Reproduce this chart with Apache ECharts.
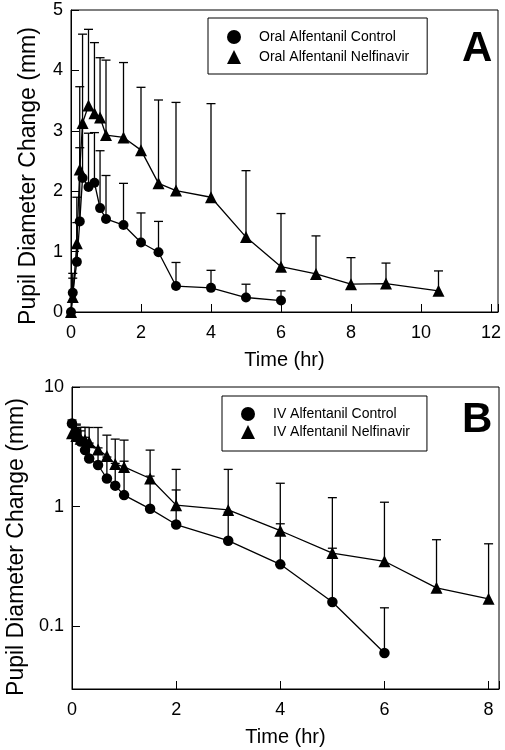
<!DOCTYPE html>
<html><head><meta charset="utf-8">
<script src="https://cdn.jsdelivr.net/npm/echarts@6/dist/echarts.min.js"></script>
<style>html,body{margin:0;padding:0;background:#fff}#c{width:505px;height:750px}</style>
</head><body><div id="c"></div>
<script>
// ---- Panel A (oral) ----
const xTicksA = [0, 2, 4, 6, 8, 10, 12];
const yTicksA = [0, 1, 2, 3, 4, 5];
const timeA_ctrl = [0, 0.05, 0.167, 0.25, 0.33, 0.5, 0.67, 0.83, 1, 1.5, 2, 2.5, 3, 4, 5, 6];
const valA_ctrl  = [0, 0.32, 0.83, 1.50, 2.22, 2.07, 2.14, 1.72, 1.54, 1.44, 1.15, 0.99, 0.43, 0.40, 0.24, 0.19];
const upA_ctrl   = [0, 0.56, 1.48, 2.72, 3.04, 2.96, 2.97, 2.67, 2.26, 2.13, 1.64, 1.50, 0.82, 0.69, 0.46, 0.35];
const timeA_nel = [0, 0.05, 0.167, 0.25, 0.33, 0.5, 0.67, 0.83, 1, 1.5, 2, 2.5, 3, 4, 5, 6, 7, 8, 9, 10.5];
const valA_nel  = [0, 0.25, 1.14, 2.36, 3.13, 3.42, 3.29, 3.22, 2.93, 2.89, 2.68, 2.13, 2.01, 1.90, 1.24, 0.75, 0.63, 0.46, 0.47, 0.35];
const upA_nel   = [0, 0.64, 1.90, 3.73, 4.60, 4.68, 4.46, 4.21, 4.17, 4.13, 3.72, 3.51, 3.47, 3.45, 2.34, 1.63, 1.26, 0.90, 0.81, 0.68];
// ---- Panel B (IV) ----
const xTicksB = [0, 2, 4, 6, 8];
const yTicksB = [0.1, 1, 10];
const timeB_ctrl = [0, 0.083, 0.167, 0.25, 0.33, 0.5, 0.67, 0.83, 1, 1.5, 2, 3, 4, 5, 6];
const valB_ctrl  = [4.95, 4.2, 3.5, 2.97, 2.53, 2.23, 1.72, 1.50, 1.25, 0.96, 0.71, 0.52, 0.33, 0.16, 0.06];
const upB_ctrl   = [5.3, 4.9, 4.3, 3.8, 3.4, 3.1, 2.6, 2.3, 2.4, 1.8, 1.38, 0.9, 0.72, 0.45, 0.143];
const timeB_nel = [0, 0.083, 0.167, 0.25, 0.33, 0.5, 0.67, 0.83, 1, 1.5, 2, 3, 4, 5, 6, 7, 8];
const valB_nel  = [4.1, 3.9, 3.7, 3.6, 3.45, 3.0, 2.65, 2.27, 2.15, 1.72, 1.03, 0.94, 0.63, 0.41, 0.35, 0.21, 0.17];
const upB_nel   = [5.0, 4.8, 4.6, 4.6, 4.59, 4.59, 3.96, 3.67, 3.6, 2.97, 2.05, 2.05, 1.57, 1.19, 1.09, 0.53, 0.49];

const FONT = 'Liberation Sans, Arial, sans-serif';
const chart = echarts.init(document.getElementById('c'), null, {renderer: 'canvas'});

function pts(t, v) { return t.map((x, i) => [x, v[i]]); }
function errPts(t, v, u) { return t.map((x, i) => [x, v[i], u[i]]); }

function errRender(params, api) {
  const x = api.value(0), y = api.value(1), hi = api.value(2);
  if (!(hi > y)) return null;
  const p0 = api.coord([x, y]);
  const p1 = api.coord([x, hi]);
  const st = {stroke: '#000', lineWidth: 1.3};
  return {type: 'group', children: [
    {type: 'line', shape: {x1: p0[0], y1: p0[1], x2: p1[0], y2: p1[1]}, style: st},
    {type: 'line', shape: {x1: p1[0] - 4.5, y1: p1[1], x2: p1[0] + 4.5, y2: p1[1]}, style: st}
  ]};
}

function lineSeries(name, data, sym, size, xi) {
  return {
    name, type: 'line', data, xAxisIndex: xi, yAxisIndex: xi,
    symbol: sym, symbolSize: size, showAllSymbol: true,
    itemStyle: {color: '#000', borderWidth: 0},
    lineStyle: {color: '#000', width: 1.3},
    emphasis: {disabled: true}, animation: false, z: 3
  };
}
function errSeries(data, xi) {
  return {type: 'custom', data, xAxisIndex: xi, yAxisIndex: xi, renderItem: errRender,
    animation: false, z: 1, silent: true};
}

const axisCommon = {
  axisLine: {show: true, lineStyle: {color: '#000', width: 1}},
  axisTick: {show: true, inside: true, length: 8, lineStyle: {color: '#000', width: 1}},
  splitLine: {show: false},
  nameTextStyle: {fontSize: 20, color: '#000', fontFamily: FONT}
};

const legendCommon = {
  orient: 'vertical', itemWidth: 14, itemHeight: 14,
  borderColor: '#000', borderWidth: 1, borderRadius: 0,
  backgroundColor: '#fff', selectedMode: false,
  textStyle: {fontSize: 14, color: '#000', fontFamily: FONT, padding: [0, 0, 0, 13]}
};

chart.setOption({
  backgroundColor: '#fff',
  animation: false,
  textStyle: {fontFamily: FONT},
  title: [
    {text: 'A', left: 462, top: 28, padding: 0, textStyle: {fontSize: 42, fontWeight: 'bold', color: '#000', fontFamily: FONT}},
    {text: 'B', left: 462, top: 399, padding: 0, textStyle: {fontSize: 42, fontWeight: 'bold', color: '#000', fontFamily: FONT}}
  ],
  legend: [
    Object.assign({}, legendCommon, {
      left: 208, top: 18, itemGap: 6, padding: [12, 18, 10, 19],
      data: [{name: 'Oral Alfentanil Control', icon: 'circle'}, {name: 'Oral Alfentanil Nelfinavir', icon: 'triangle'}]
    }),
    Object.assign({}, legendCommon, {
      left: 222, top: 396, itemGap: 4, padding: [11, 17, 12, 19],
      data: [{name: 'IV Alfentanil Control', icon: 'circle'}, {name: 'IV Alfentanil Nelfinavir', icon: 'triangle'}]
    })
  ],
  grid: [
    {left: 71, top: 10, width: 427, height: 302, show: true, borderColor: '#000', borderWidth: 1,
     backgroundColor: 'transparent', containLabel: false, outerBoundsMode: 'none'},
    {left: 72, top: 387, width: 427, height: 302, show: true, borderColor: '#000', borderWidth: 1,
     backgroundColor: 'transparent', containLabel: false, outerBoundsMode: 'none'}
  ],
  xAxis: [
    Object.assign({}, axisCommon, {
      gridIndex: 0, type: 'value', min: 0, max: 12.2, interval: 2,
      axisLabel: {fontSize: 18, color: '#000', margin: 12, fontFamily: FONT,
        formatter: v => xTicksA.includes(v) ? String(v) : ''},
      name: 'Time (hr)', nameLocation: 'middle', nameGap: 38
    }),
    Object.assign({}, axisCommon, {
      gridIndex: 1, type: 'value', min: 0, max: 8.2, interval: 2,
      axisLabel: {fontSize: 18, color: '#000', margin: 12, fontFamily: FONT,
        formatter: v => xTicksB.includes(v) ? String(v) : ''},
      name: 'Time (hr)', nameLocation: 'middle', nameGap: 38
    })
  ],
  yAxis: [
    Object.assign({}, axisCommon, {
      gridIndex: 0, type: 'value', min: 0, max: 5, interval: 1,
      axisLabel: {fontSize: 18, color: '#000', margin: 8, fontFamily: FONT,
        formatter: v => yTicksA.includes(v) ? String(v) : ''},
      name: 'Pupil Diameter Change (mm)', nameLocation: 'middle', nameGap: 31,
      nameTextStyle: {fontSize: 23, color: '#000', fontFamily: FONT, padding: [0, 30, 0, 0]}
    }),
    Object.assign({}, axisCommon, {
      gridIndex: 1, type: 'log', logBase: 10, min: 0.03, max: 10,
      axisLabel: {fontSize: 18, color: '#000', margin: 8, fontFamily: FONT,
        formatter: v => { const m = yTicksB.find(t => Math.abs(Math.log10(v) - Math.log10(t)) < 1e-6); return m !== undefined ? String(m) : ''; }},
      name: 'Pupil Diameter Change (mm)', nameLocation: 'middle', nameGap: 44,
      nameTextStyle: {fontSize: 23, color: '#000', fontFamily: FONT, padding: [0, 18, 0, 0]}
    })
  ],
  series: [
    errSeries(errPts(timeA_ctrl, valA_ctrl, upA_ctrl), 0),
    errSeries(errPts(timeA_nel, valA_nel, upA_nel), 0),
    lineSeries('Oral Alfentanil Control', pts(timeA_ctrl, valA_ctrl), 'circle', 10, 0),
    lineSeries('Oral Alfentanil Nelfinavir', pts(timeA_nel, valA_nel), 'triangle', 12, 0),
    errSeries(errPts(timeB_ctrl, valB_ctrl, upB_ctrl), 1),
    errSeries(errPts(timeB_nel, valB_nel, upB_nel), 1),
    lineSeries('IV Alfentanil Control', pts(timeB_ctrl, valB_ctrl), 'circle', 10.5, 1),
    lineSeries('IV Alfentanil Nelfinavir', pts(timeB_nel, valB_nel), 'triangle', 12, 1)
  ]
});
</script>
</body></html>
